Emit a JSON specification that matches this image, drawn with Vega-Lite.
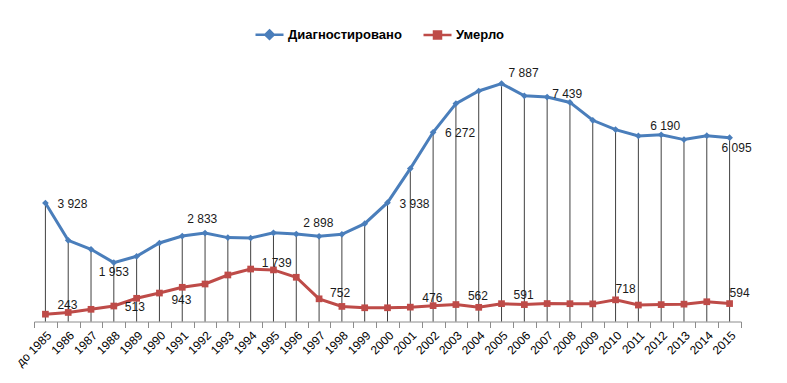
{
  "$schema": "https://vega.github.io/schema/vega-lite/v6.json",
  "autosize": "none",
  "padding": {"left": 34, "top": 50, "right": 46, "bottom": 61.5},
  "width": 707,
  "height": 271.5,
  "background": "white",
  "config": {
    "view": {"stroke": null},
    "locale": {"number": {"decimal": ",", "thousands": " ", "grouping": [3], "currency": ["", ""]}},
    "text": {"font": "Liberation Sans", "fontSize": 12, "color": "#1a1a1a", "baseline": "middle"}
  },
  "data": {"values": [
    {"year": "до 1985", "series": "Диагностировано", "value": 3928},
    {"year": "1986", "series": "Диагностировано", "value": 2691},
    {"year": "1987", "series": "Диагностировано", "value": 2393},
    {"year": "1988", "series": "Диагностировано", "value": 1953},
    {"year": "1989", "series": "Диагностировано", "value": 2161},
    {"year": "1990", "series": "Диагностировано", "value": 2602},
    {"year": "1991", "series": "Диагностировано", "value": 2833},
    {"year": "1992", "series": "Диагностировано", "value": 2933},
    {"year": "1993", "series": "Диагностировано", "value": 2781},
    {"year": "1994", "series": "Диагностировано", "value": 2768},
    {"year": "1995", "series": "Диагностировано", "value": 2940},
    {"year": "1996", "series": "Диагностировано", "value": 2898},
    {"year": "1997", "series": "Диагностировано", "value": 2824},
    {"year": "1998", "series": "Диагностировано", "value": 2890},
    {"year": "1999", "series": "Диагностировано", "value": 3244},
    {"year": "2000", "series": "Диагностировано", "value": 3938},
    {"year": "2001", "series": "Диагностировано", "value": 5069},
    {"year": "2002", "series": "Диагностировано", "value": 6272},
    {"year": "2003", "series": "Диагностировано", "value": 7224},
    {"year": "2004", "series": "Диагностировано", "value": 7641},
    {"year": "2005", "series": "Диагностировано", "value": 7887},
    {"year": "2006", "series": "Диагностировано", "value": 7480},
    {"year": "2007", "series": "Диагностировано", "value": 7439},
    {"year": "2008", "series": "Диагностировано", "value": 7262},
    {"year": "2009", "series": "Диагностировано", "value": 6670},
    {"year": "2010", "series": "Диагностировано", "value": 6362},
    {"year": "2011", "series": "Диагностировано", "value": 6150},
    {"year": "2012", "series": "Диагностировано", "value": 6190},
    {"year": "2013", "series": "Диагностировано", "value": 6030},
    {"year": "2014", "series": "Диагностировано", "value": 6160},
    {"year": "2015", "series": "Диагностировано", "value": 6095},
    {"year": "до 1985", "series": "Умерло", "value": 243},
    {"year": "1986", "series": "Умерло", "value": 300},
    {"year": "1987", "series": "Умерло", "value": 404},
    {"year": "1988", "series": "Умерло", "value": 513},
    {"year": "1989", "series": "Умерло", "value": 769},
    {"year": "1990", "series": "Умерло", "value": 943},
    {"year": "1991", "series": "Умерло", "value": 1134},
    {"year": "1992", "series": "Умерло", "value": 1243},
    {"year": "1993", "series": "Умерло", "value": 1542},
    {"year": "1994", "series": "Умерло", "value": 1739},
    {"year": "1995", "series": "Умерло", "value": 1710},
    {"year": "1996", "series": "Умерло", "value": 1466},
    {"year": "1997", "series": "Умерло", "value": 752},
    {"year": "1998", "series": "Умерло", "value": 500},
    {"year": "1999", "series": "Умерло", "value": 455},
    {"year": "2000", "series": "Умерло", "value": 455},
    {"year": "2001", "series": "Умерло", "value": 476},
    {"year": "2002", "series": "Умерло", "value": 525},
    {"year": "2003", "series": "Умерло", "value": 562},
    {"year": "2004", "series": "Умерло", "value": 470},
    {"year": "2005", "series": "Умерло", "value": 591},
    {"year": "2006", "series": "Умерло", "value": 560},
    {"year": "2007", "series": "Умерло", "value": 595},
    {"year": "2008", "series": "Умерло", "value": 590},
    {"year": "2009", "series": "Умерло", "value": 585},
    {"year": "2010", "series": "Умерло", "value": 718},
    {"year": "2011", "series": "Умерло", "value": 545},
    {"year": "2012", "series": "Умерло", "value": 560},
    {"year": "2013", "series": "Умерло", "value": 575},
    {"year": "2014", "series": "Умерло", "value": 655},
    {"year": "2015", "series": "Умерло", "value": 594}
  ]},
  "encoding": {
    "x": {
      "field": "year", "type": "ordinal", "sort": null, "bandPosition": 0.5,
      "scale": {"type": "band", "paddingInner": 0, "paddingOuter": 0},
      "axis": {
        "title": null, "labelAngle": -45, "labelFont": "Liberation Sans", "labelFontSize": 12,
        "labelColor": "#000", "tickBand": "extent", "tickSize": 6, "tickColor": "#8c8c8c",
        "domainColor": "#8c8c8c", "labelPadding": 2, "grid": false
      }
    },
    "y": {"field": "value", "type": "quantitative", "scale": {"domain": [0, 9000], "nice": false, "zero": true}, "axis": null}
  },
  "layer": [
    {
      "transform": [{"filter": {"field": "series", "equal": "Диагностировано"}}],
      "mark": {"type": "rule", "color": "#404040", "strokeWidth": 1},
      "encoding": {"y2": {"datum": 0}}
    },
    {
      "mark": {"type": "line", "strokeWidth": 3},
      "encoding": {
        "color": {
          "field": "series", "type": "nominal", "sort": ["Диагностировано", "Умерло"],
          "scale": {"domain": ["Диагностировано", "Умерло"], "range": ["#4a7ebb", "#be4b48"]},
          "legend": {
            "title": null, "orient": "none", "direction": "horizontal", "legendX": 220, "legendY": -31,
            "labelFont": "Liberation Sans", "labelFontSize": 13, "labelFontWeight": "bold", "labelColor": "#000",
            "symbolSize": 784, "symbolStrokeWidth": 2.5, "labelOffset": 3, "columnPadding": 16,
            "labelLimit": 300,
            "symbolType": "M-1,0H1M0,-0.3L0.3,0L0,0.3L-0.3,0Z",
            "encode": {"symbols": {"update": {
              "shape": {"signal": "datum.value === 'Умерло' ? 'M-1,0H1M-0.25,-0.25H0.25V0.25H-0.25Z' : 'M-1,0H1M0,-0.3L0.3,0L0,0.3L-0.3,0Z'"},
              "fill": {"scale": "color", "field": "value"},
              "stroke": {"scale": "color", "field": "value"},
              "strokeWidth": {"value": 2.5},
              "opacity": {"value": 1}
            }}}
          }
        }
      }
    },
    {
      "transform": [{"filter": {"field": "series", "equal": "Диагностировано"}}],
      "mark": {"type": "point", "filled": true, "opacity": 1, "size": 45, "shape": "diamond"},
      "encoding": {
        "color": {"field": "series", "type": "nominal", "sort": ["Диагностировано", "Умерло"]}
      }
    },
    {
      "transform": [{"filter": {"field": "series", "equal": "Умерло"}}],
      "mark": {"type": "point", "filled": true, "opacity": 1, "size": 45, "shape": "square"},
      "encoding": {
        "color": {"field": "series", "type": "nominal", "sort": ["Диагностировано", "Умерло"]}
      }
    },
    {
      "transform": [{"filter": {"and": [{"field": "series", "equal": "Диагностировано"}, {"field": "year", "oneOf": ["до 1985", "2000", "2002"]}]}}],
      "mark": {"type": "text", "align": "left", "dx": 12, "dy": 1},
      "encoding": {"text": {"field": "value", "type": "quantitative", "format": ",d"}}
    },
    {
      "transform": [{"filter": {"and": [{"field": "series", "equal": "Диагностировано"}, {"field": "year", "oneOf": ["1996", "2005"]}]}}],
      "mark": {"type": "text", "align": "left", "dx": 7, "dy": -11},
      "encoding": {"text": {"field": "value", "type": "quantitative", "format": ",d"}}
    },
    {
      "transform": [{"filter": {"and": [{"field": "series", "equal": "Диагностировано"}, {"field": "year", "equal": "1991"}]}}],
      "mark": {"type": "text", "align": "left", "dx": 5, "dy": -17},
      "encoding": {"text": {"field": "value", "type": "quantitative", "format": ",d"}}
    },
    {
      "transform": [{"filter": {"and": [{"field": "series", "equal": "Диагностировано"}, {"field": "year", "equal": "2007"}]}}],
      "mark": {"type": "text", "align": "left", "dx": 5, "dy": -3},
      "encoding": {"text": {"field": "value", "type": "quantitative", "format": ",d"}}
    },
    {
      "transform": [{"filter": {"and": [{"field": "series", "equal": "Диагностировано"}, {"field": "year", "equal": "1988"}]}}],
      "mark": {"type": "text", "align": "center", "dx": 0, "dy": 9},
      "encoding": {"text": {"field": "value", "type": "quantitative", "format": ",d"}}
    },
    {
      "transform": [{"filter": {"and": [{"field": "series", "equal": "Диагностировано"}, {"field": "year", "equal": "2015"}]}}],
      "mark": {"type": "text", "align": "center", "dx": 7, "dy": 10},
      "encoding": {"text": {"field": "value", "type": "quantitative", "format": ",d"}}
    },
    {
      "transform": [{"filter": {"and": [{"field": "series", "equal": "Диагностировано"}, {"field": "year", "equal": "2012"}]}}],
      "mark": {"type": "text", "align": "center", "dx": 4, "dy": -9},
      "encoding": {"text": {"field": "value", "type": "quantitative", "format": ",d"}}
    },
    {
      "transform": [{"filter": {"and": [{"field": "series", "equal": "Умерло"}, {"field": "year", "oneOf": ["до 1985", "2001", "2003", "2005"]}]}}],
      "mark": {"type": "text", "align": "left", "dx": 12, "dy": -9},
      "encoding": {"text": {"field": "value", "type": "quantitative", "format": ",d"}}
    },
    {
      "transform": [{"filter": {"and": [{"field": "series", "equal": "Умерло"}, {"field": "year", "equal": "1988"}]}}],
      "mark": {"type": "text", "align": "left", "dx": 11, "dy": 1},
      "encoding": {"text": {"field": "value", "type": "quantitative", "format": ",d"}}
    },
    {
      "transform": [{"filter": {"and": [{"field": "series", "equal": "Умерло"}, {"field": "year", "equal": "1990"}]}}],
      "mark": {"type": "text", "align": "left", "dx": 12, "dy": 7},
      "encoding": {"text": {"field": "value", "type": "quantitative", "format": ",d"}}
    },
    {
      "transform": [{"filter": {"and": [{"field": "series", "equal": "Умерло"}, {"field": "year", "oneOf": ["1994", "1997"]}]}}],
      "mark": {"type": "text", "align": "left", "dx": 11, "dy": -6},
      "encoding": {"text": {"field": "value", "type": "quantitative", "format": ",d"}}
    },
    {
      "transform": [{"filter": {"and": [{"field": "series", "equal": "Умерло"}, {"field": "year", "oneOf": ["2010", "2015"]}]}}],
      "mark": {"type": "text", "align": "left", "dx": 0, "dy": -11},
      "encoding": {"text": {"field": "value", "type": "quantitative", "format": ",d"}}
    }
  ]
}
